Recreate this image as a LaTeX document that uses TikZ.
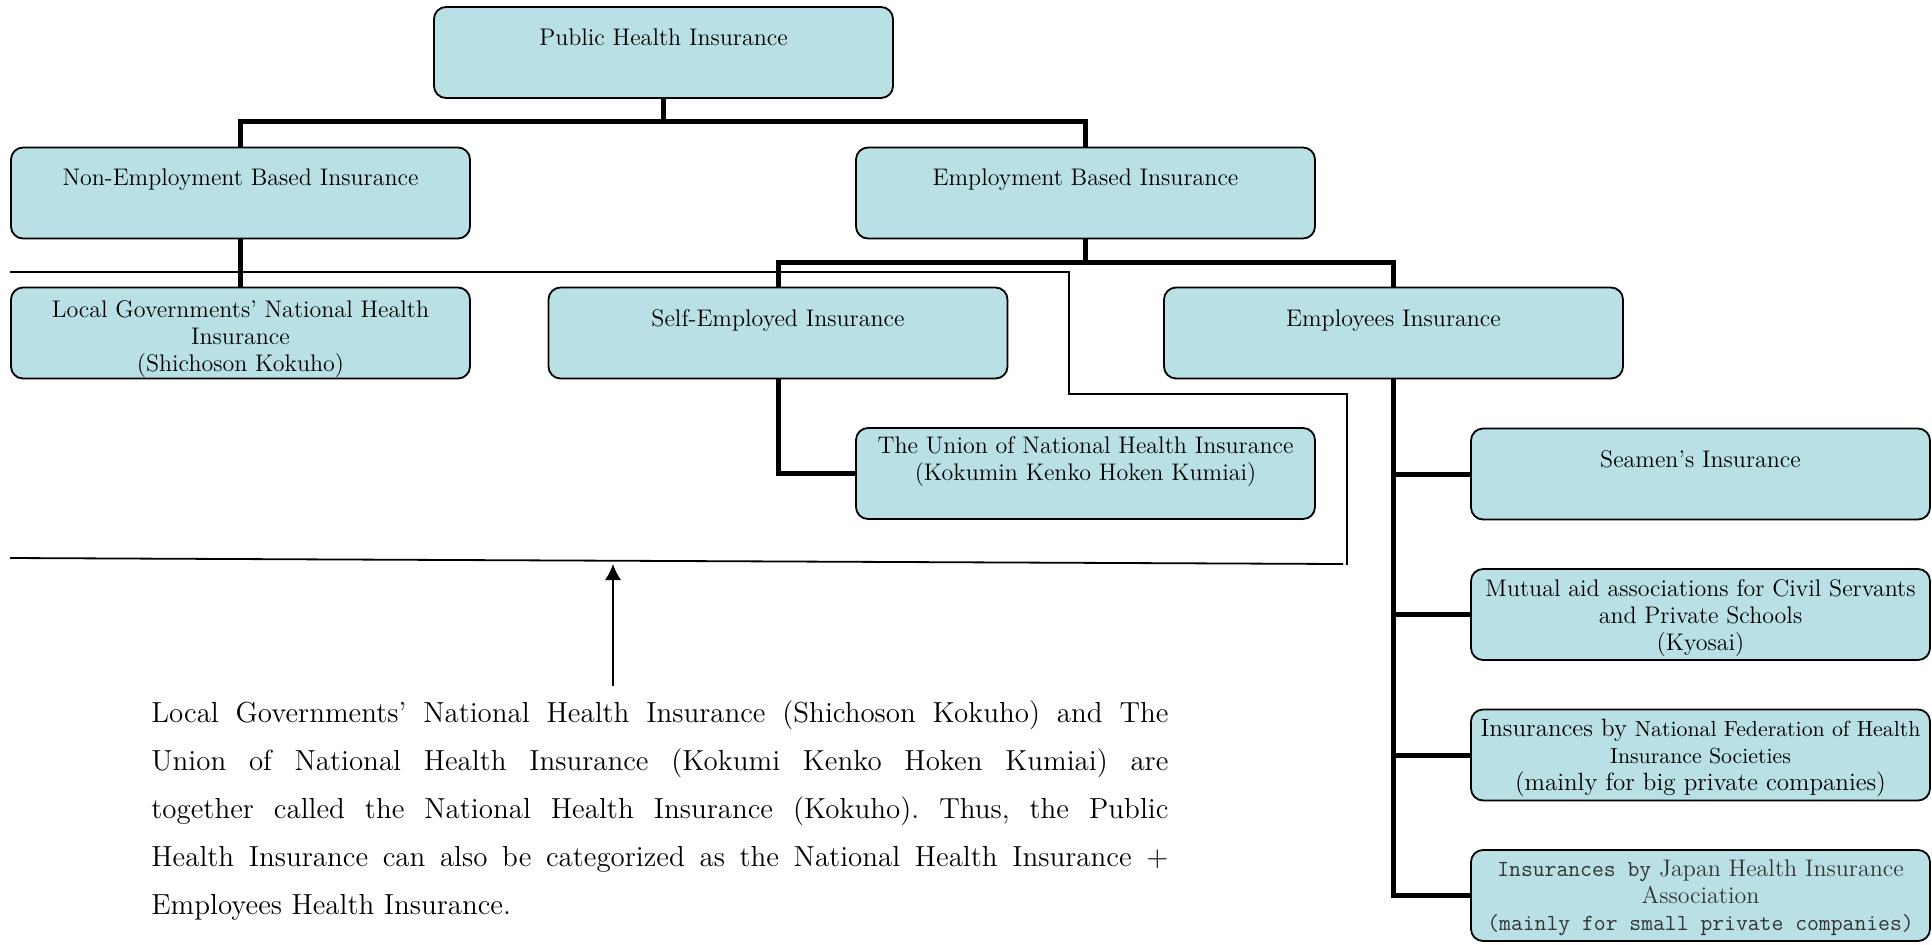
\documentclass[tikz,border=0pt]{standalone}
\usepackage{fontspec}
\usetikzlibrary{arrows.meta}
\definecolor{boxfill}{RGB}{185,224,228}
\tikzset{
  ins/.style={draw, line width=0.9pt, fill=boxfill, rounded corners=6pt,
              minimum width=229.5pt, minimum height=45.5pt, inner sep=0pt},
  instext/.style={anchor=north, align=center, inner sep=0pt,
                  font=\fontsize{12}{13.5}\selectfont},
  link/.style={line width=2.5pt},
  bracket/.style={line width=0.9pt},
  note/.style={anchor=north west, inner sep=0pt, text width=508.5pt,
               align=justify, font=\fontsize{14.5}{24}\selectfont\frenchspacing},
}

\begin{document}
\begin{tikzpicture}[x=0.5pt,y=-0.5pt]
   \useasboundingbox (0,0) rectangle (1932,944);

   % boxes
   \node[ins] (pub)       at (663.5,52.5) {};
   \node[ins] (nonemp)    at (240.5,193)  {};
   \node[ins] (emp)       at (1085.5,193) {};
   \node[ins] (local)     at (240.5,333)  {};
   \node[ins] (self)      at (778,333)    {};
   \node[ins] (employees) at (1393.5,333) {};
   \node[ins] (union)     at (1085.5,473.5) {};
   \node[ins] (seamen)    at (1700.5,474)   {};
   \node[ins] (mutual)    at (1700.5,614.5) {};
   \node[ins] (nfhis)     at (1700.5,755)   {};
   \node[ins] (jhia)      at (1700.5,895.5) {};

   % box texts
   \node[instext] (pub-t)       at ([yshift=-11.2pt]pub.north)       {Public Health Insurance};
   \node[instext] (nonemp-t)    at ([yshift=-10.9pt]nonemp.north)    {Non-Employment Based Insurance};
   \node[instext] (emp-t)       at ([yshift=-10.9pt]emp.north)       {Employment Based Insurance};
   \node[instext] (local-t)     at ([yshift=-6.7pt]local.north)      {Local Governments' National Health\\ Insurance\\ (Shichoson Kokuho)};
   \node[instext] (self-t)      at ([yshift=-11.2pt]self.north)      {Self-Employed Insurance};
   \node[instext] (employees-t) at ([yshift=-11.2pt]employees.north) {Employees Insurance};
   \node[instext] (union-t)     at ([yshift=-4.5pt]union.north)      {The Union of National Health Insurance\\ (Kokumin Kenko Hoken Kumiai)};
   \node[instext] (seamen-t)    at ([yshift=-11.2pt]seamen.north)    {Seamen's Insurance};
   \node[instext] (mutual-t)    at ([yshift=-5.7pt]mutual.north)     {Mutual aid associations for Civil Servants\\ and Private Schools\\ (Kyosai)};
   \node[instext] (nfhis-t)     at ([yshift=-5.3pt]nfhis.north)
      {{\fontsize{12.5}{13.5}\selectfont Insurances by} {\fontsize{10.9}{13.5}\selectfont National Federation of Health}\\
       {\fontsize{10.9}{13.5}\selectfont Insurance Societies}\\
       {\fontsize{12.5}{13.5}\selectfont (mainly for big private companies)}};
   \node[instext, text=black!80] (jhia-t) at ([yshift=-5.2pt]jhia.north)
      {{\ttfamily\fontsize{11.5}{13.5}\selectfont\addfontfeature{LetterSpace=20}Insurances by} Japan Health Insurance\\
       Association\\
       {\ttfamily\fontsize{11.5}{13.5}\selectfont (mainly for small private companies)}};

   % tree connectors
   \draw[link] (pub.south) -- ++(0,23) -| (nonemp.north);
   \draw[link] (pub.south) -- ++(0,23) -| (emp.north);
   \draw[link] (nonemp.south) -- (local.north);
   \draw[link] (emp.south) -- ++(0,23) -| (self.north);
   \draw[link] (emp.south) -- ++(0,23) -| (employees.north);
   \draw[link] (self.south) |- (union.west);
   \draw[link] (employees.south) |- (seamen.west);
   \draw[link] (employees.south) |- (mutual.west);
   \draw[link] (employees.south) |- (nfhis.west);
   \draw[link] (employees.south) |- (jhia.west);

   % national health insurance bracket
   \draw[bracket] (10,272) -- (1069,272) -- (1069,394) -- (1347,394) -- (1347,565);
   \draw[bracket] (10,558) -- (1343,564);
   \coordinate (nhi) at (613,564);

   % note
   \node[note] (note) at (151,700)
      {Local Governments' National Health Insurance (Shichoson Kokuho) and The\linebreak
       Union of National Health Insurance (Kokumi Kenko Hoken Kumiai) are\linebreak
       together called the National Health Insurance (Kokuho). Thus, the Public\linebreak
       Health Insurance can also be categorized as the National Health Insurance +\linebreak
       Employees Health Insurance.};
   \draw[-{Latex[length=8pt,width=8pt]}, line width=0.7pt] ([yshift=7pt]note.north -| nhi) -- (nhi);
\end{tikzpicture}
\end{document}
